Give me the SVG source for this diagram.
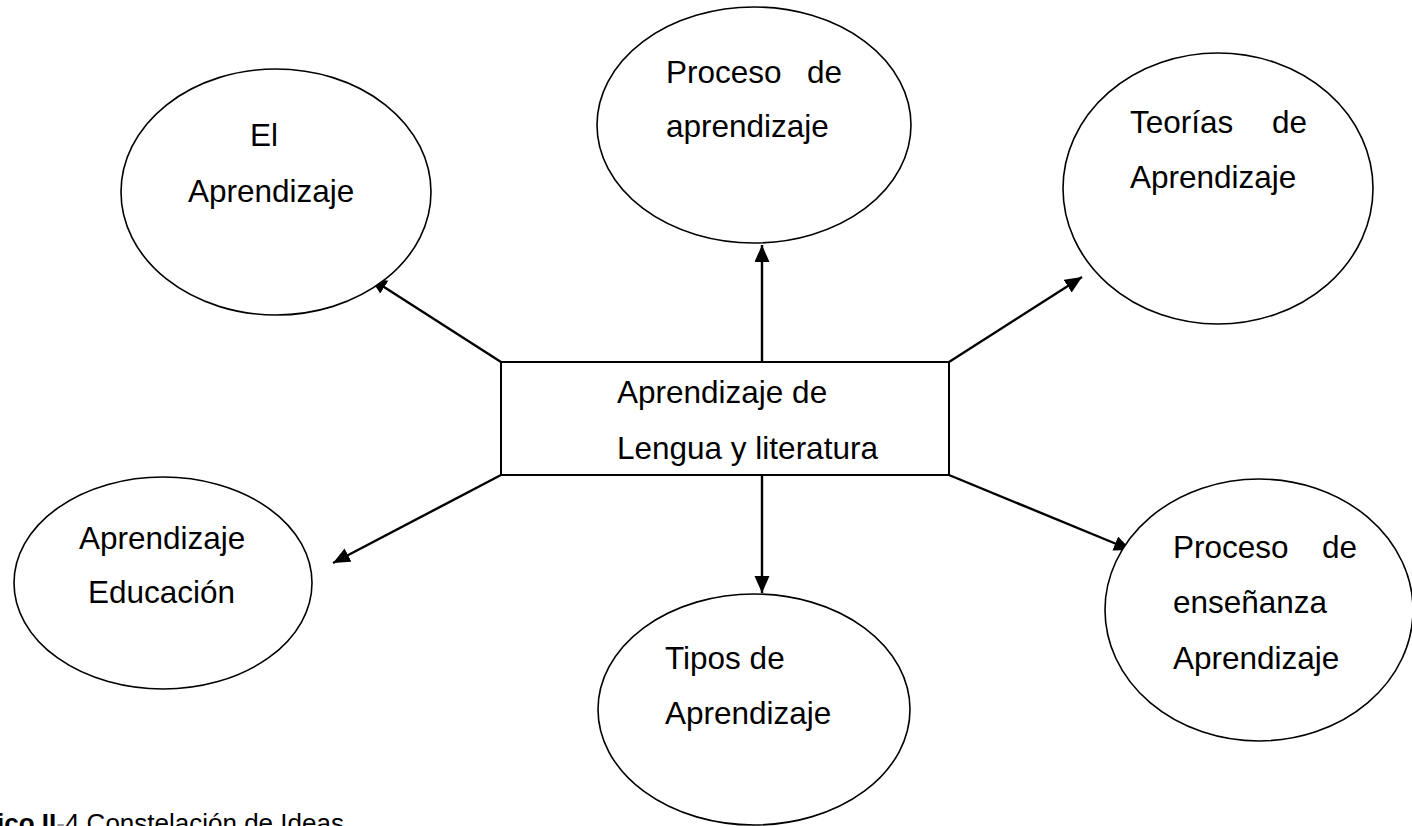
<svg xmlns="http://www.w3.org/2000/svg" width="1412" height="826" viewBox="0 0 1412 826">
<style>
.node ellipse{fill:#fff;stroke:#000;stroke-width:1.6}
.node rect{fill:#fff;stroke:#000;stroke-width:2}
text{font-family:"Liberation Sans",Arial,sans-serif;font-size:31.5px;fill:#000}
.conn line{stroke:#000;stroke-width:2.4;marker-end:url(#ah)}
.cap{font-size:26px}
</style>
<defs>
<marker id="ah" markerUnits="userSpaceOnUse" markerWidth="18" markerHeight="16" refX="17" refY="7.5" orient="auto">
<path d="M0,0 L17,7.5 L0,15 z" fill="#000"/>
</marker>
</defs>
<rect width="1412" height="826" fill="#fff"/>
<g id="connectors" class="conn">
<line x1="501" y1="362" x2="370" y2="278"/>
<line x1="762" y1="362" x2="762" y2="245"/>
<line x1="949" y1="362" x2="1082" y2="277"/>
<line x1="501" y1="475" x2="333" y2="563"/>
<line x1="762" y1="475" x2="762" y2="593"/>
<line x1="949" y1="475" x2="1131" y2="550"/>
</g>
<g id="node-el-aprendizaje" class="node">
<ellipse cx="276" cy="192" rx="155" ry="123"/>
<text x="250" y="146">El</text>
<text x="188" y="202">Aprendizaje</text>
</g>
<g id="node-proceso-aprendizaje" class="node">
<ellipse cx="754" cy="125" rx="157" ry="118"/>
<text y="83"><tspan x="666">Proceso</tspan><tspan x="807">de</tspan></text>
<text x="666" y="137">aprendizaje</text>
</g>
<g id="node-teorias" class="node">
<ellipse cx="1218" cy="188.5" rx="155" ry="135.5"/>
<text y="133"><tspan x="1130">Teorías</tspan><tspan x="1272">de</tspan></text>
<text x="1130" y="188">Aprendizaje</text>
</g>
<g id="node-aprendizaje-educacion" class="node">
<ellipse cx="163" cy="583" rx="149" ry="106"/>
<text x="79" y="549">Aprendizaje</text>
<text x="88" y="603">Educación</text>
</g>
<g id="node-tipos" class="node">
<ellipse cx="754" cy="709.5" rx="156" ry="115.5"/>
<text x="665" y="669">Tipos de</text>
<text x="665" y="724">Aprendizaje</text>
</g>
<g id="node-proceso-ensenanza" class="node">
<ellipse cx="1259" cy="610" rx="154" ry="131"/>
<text y="558"><tspan x="1173">Proceso</tspan><tspan x="1322">de</tspan></text>
<text x="1173" y="613">enseñanza</text>
<text x="1173" y="669">Aprendizaje</text>
</g>
<g id="node-center" class="node">
<rect x="501" y="362" width="448" height="113"/>
<text x="617" y="403">Aprendizaje de</text>
<text x="617" y="459">Lengua y literatura</text>
</g>
<text class="cap" x="-3" y="832"><tspan font-weight="bold">ico II</tspan><tspan fill="#9a9a9a">-</tspan><tspan>4 Constelación de Ideas</tspan></text>
</svg>
